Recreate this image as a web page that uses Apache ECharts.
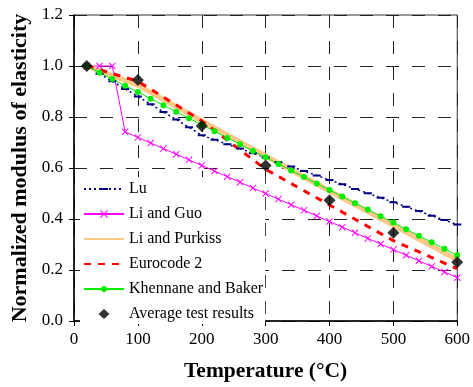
<!DOCTYPE html>
<html>
<head>
<meta charset="utf-8">
<script src="https://cdn.jsdelivr.net/npm/echarts@6/dist/echarts.min.js"></script>
<style>
html,body{margin:0;padding:0;background:#fff;}
#chart{width:473px;height:387px;}
</style>
</head>
<body>
<div id="chart"></div>
<script>
// ---- data ----
const temps = [20,40,60,80,100,120,140,160,180,200,220,240,260,280,300,320,340,360,380,400,420,440,460,480,500,520,540,560,580,600];
const lu = [1.000,0.970,0.940,0.910,0.880,0.850,0.820,0.790,0.760,0.728,0.711,0.693,0.676,0.658,0.641,0.623,0.606,0.588,0.571,0.553,0.536,0.518,0.501,0.483,0.466,0.448,0.431,0.413,0.396,0.378];
const liGuo = [1.000,1.000,1.000,0.742,0.720,0.698,0.676,0.654,0.632,0.610,0.588,0.566,0.544,0.522,0.500,0.478,0.456,0.434,0.412,0.390,0.368,0.346,0.324,0.302,0.280,0.258,0.236,0.214,0.192,0.170];
const khennane = [1.000,0.974,0.949,0.923,0.898,0.872,0.846,0.821,0.795,0.770,0.744,0.718,0.693,0.667,0.642,0.616,0.590,0.565,0.539,0.514,0.488,0.462,0.437,0.411,0.386,0.360,0.334,0.309,0.283,0.258];
const coarseT = [20,100,200,300,400,500,600];
const purkiss = [1.000,0.925,0.785,0.647,0.510,0.375,0.240];
const eurocode = [1.000,0.940,0.785,0.595,0.455,0.315,0.205];
const testT = [20,100,200,300,400,500,600];
const testAvg = [1.000,0.945,0.765,0.610,0.474,0.346,0.230];
const yTicks = [0,0.2,0.4,0.6,0.8,1.0,1.2];
const xTicks = [0,100,200,300,400,500,600];

const zip = (xs, ys) => xs.map((x, i) => [x, ys[i]]);
const SERIF = 'Liberation Serif';
// marker shapes (tiny zero-area sub-paths only pad the bounding box)
const X_PATH = 'path://M0,1L1,0L5,4L9,0L10,1L6,5L10,9L9,10L5,6L1,10L0,9L4,5Z';
const DASH_PATH = 'path://M4,-3L4.001,-3L4,-3.001ZM4,5L4.001,5L4,5.001ZM0,0H8V2H0Z';
const DOT_PATH = 'path://M1,4A3,3,0,1,1,7,4A3,3,0,1,1,1,4ZM0,0L0.001,0L0,0.001ZM8,8L8.001,8L8,8.001Z';
const DIAMOND_ICON = 'path://M20,0L25.5,5L20,10L14.5,5ZM0,5L0.001,5L0,5.001ZM40,5L40.001,5L40,5.001Z';

const chart = echarts.init(document.getElementById('chart'), null, {renderer: 'canvas'});
chart.setOption({
  animation: false,
  backgroundColor: '#fff',
  grid: {left: 74, right: 14, top: 15, bottom: 62, show: true, borderColor: '#333', borderWidth: 1, backgroundColor: 'transparent'},
  xAxis: {
    type: 'value', min: xTicks[0], max: xTicks[xTicks.length - 1], interval: 100,
    name: 'Temperature (°C)', nameLocation: 'middle', nameGap: 39,
    nameTextStyle: {fontFamily: SERIF, fontWeight: 'bold', fontSize: 21.5, color: '#000'},
    axisLine: {onZero: false, lineStyle: {color: '#000', width: 1.5}},
    axisTick: {show: true, inside: false, length: 5, lineStyle: {color: '#000'}},
    axisLabel: {fontFamily: SERIF, fontSize: 17, color: '#000', margin: 10},
    splitLine: {show: true, lineStyle: {color: '#222', width: 1, type: [13, 13]}}
  },
  yAxis: {
    type: 'value', min: yTicks[0], max: yTicks[yTicks.length - 1], interval: 0.2,
    name: 'Normalized modulus of elasticity', nameLocation: 'middle', nameGap: 42,
    nameTextStyle: {fontFamily: SERIF, fontWeight: 'bold', fontSize: 22, color: '#000'},
    axisLine: {show: true, lineStyle: {color: '#000', width: 1.5}},
    axisTick: {show: true, inside: false, length: 5, lineStyle: {color: '#000'}},
    axisLabel: {fontFamily: SERIF, fontSize: 17, color: '#000', margin: 11, formatter: v => v.toFixed(1)},
    splitLine: {show: true, lineStyle: {color: '#222', width: 1, type: [13, 13]}}
  },
  legend: {
    orient: 'vertical', left: 80, top: 177,
    backgroundColor: '#fff', padding: [4, 2, 2, 3],
    itemWidth: 40, itemHeight: 10, itemGap: 9, itemTextGap: 5,
    textStyle: {fontFamily: SERIF, fontSize: 16, color: '#000', lineHeight: 16},
    data: [
      'Lu', 'Li and Guo',
      {name: 'Li and Purkiss', itemStyle: {opacity: 0}},
      {name: 'Eurocode 2', itemStyle: {opacity: 0}},
      'Khennane and Baker',
      {name: 'Average test results', icon: DIAMOND_ICON}
    ]
  },
  series: [
    {name: 'Lu', type: 'line', z: 6, data: zip(temps, lu), symbol: DASH_PATH, symbolSize: 8,
      itemStyle: {color: '#000080'}, lineStyle: {color: '#000080', width: 1.5, type: [2, 3]}},
    {name: 'Li and Guo', type: 'line', z: 6, data: zip(temps, liGuo), symbol: X_PATH, symbolSize: 7,
      itemStyle: {color: '#FF00FF'}, lineStyle: {color: '#FF00FF', width: 1}},
    {name: 'Li and Purkiss', type: 'line', z: 6, data: zip(coarseT, purkiss), symbol: 'none', showSymbol: false,
      itemStyle: {color: '#FFC888'}, lineStyle: {color: '#FFC888', width: 5}},
    {name: 'Eurocode 2', type: 'line', z: 6, data: zip(coarseT, eurocode), symbol: 'none', showSymbol: false,
      itemStyle: {color: '#FF0000'}, lineStyle: {color: '#FF0000', width: 3, type: [7, 7]}},
    {name: 'Khennane and Baker', type: 'line', z: 6, data: zip(temps, khennane), symbol: DOT_PATH, symbolSize: 8,
      itemStyle: {color: '#00EE00'}, lineStyle: {color: '#00EE00', width: 1}},
    {name: 'Average test results', type: 'scatter', z: 7, data: zip(testT, testAvg), symbol: 'diamond', symbolSize: 12,
      itemStyle: {color: '#000'}}
  ]
});
</script>
</body>
</html>
